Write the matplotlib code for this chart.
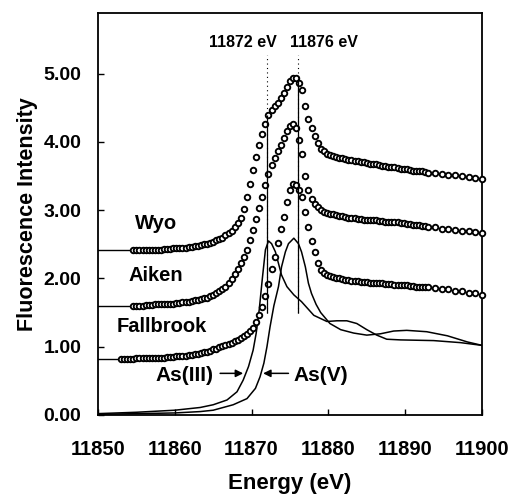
import numpy as np
import matplotlib
matplotlib.use("Agg")
import matplotlib.pyplot as plt

plt.rcParams['font.family'] = ['Liberation Sans', 'DejaVu Sans']
plt.rcParams['font.weight'] = 'bold'

# energy grids (eV): 0.4 eV steps through the edge, coarser past 11893
grid_fine = np.arange(11854.6, 11893.01, 0.4)
grid_fall = np.arange(11853.0, 11893.01, 0.4)
grid_tail = np.arange(11893.875, 11900.01, 0.875)

wyo_energy = np.concatenate([grid_fine, grid_tail])
wyo_intensity = [
    2.41, 2.41, 2.41, 2.41, 2.41, 2.42, 2.42, 2.42, 2.42, 2.42,
    2.43, 2.43, 2.43, 2.44, 2.44, 2.44, 2.45, 2.45, 2.46, 2.46,
    2.47, 2.48, 2.49, 2.50, 2.51, 2.52, 2.54, 2.56, 2.58, 2.60,
    2.63, 2.66, 2.70, 2.75, 2.81, 2.89, 3.02, 3.19, 3.39, 3.59,
    3.78, 3.96, 4.12, 4.27, 4.39, 4.47, 4.52, 4.57, 4.64, 4.71,
    4.80, 4.89, 4.94, 4.93, 4.86, 4.76, 4.52, 4.34, 4.20, 4.08,
    3.98, 3.90, 3.86, 3.83, 3.81, 3.80, 3.78, 3.77, 3.76, 3.75,
    3.74, 3.73, 3.72, 3.72, 3.71, 3.70, 3.69, 3.68, 3.68, 3.67,
    3.66, 3.65, 3.65, 3.64, 3.63, 3.63, 3.62, 3.61, 3.60, 3.60,
    3.59, 3.58, 3.58, 3.57, 3.57, 3.56, 3.55,
    3.54, 3.53, 3.52, 3.51, 3.50, 3.48, 3.47, 3.45,
]

aiken_energy = np.concatenate([grid_fine, grid_tail])
aiken_intensity = [
    1.60, 1.60, 1.60, 1.60, 1.61, 1.61, 1.61, 1.62, 1.62, 1.62,
    1.62, 1.63, 1.63, 1.63, 1.64, 1.64, 1.65, 1.65, 1.66, 1.67,
    1.68, 1.69, 1.70, 1.71, 1.72, 1.74, 1.76, 1.78, 1.81, 1.84,
    1.88, 1.93, 1.99, 2.06, 2.14, 2.22, 2.31, 2.42, 2.56, 2.71,
    2.87, 3.03, 3.20, 3.37, 3.53, 3.66, 3.76, 3.86, 3.96, 4.06,
    4.16, 4.23, 4.26, 4.20, 4.03, 3.83, 3.50, 3.30, 3.17, 3.09,
    3.04, 3.01, 2.98, 2.96, 2.95, 2.94, 2.93, 2.92, 2.91, 2.90,
    2.89, 2.88, 2.88, 2.87, 2.87, 2.86, 2.86, 2.85, 2.85, 2.85,
    2.84, 2.84, 2.83, 2.83, 2.82, 2.82, 2.82, 2.81, 2.81, 2.80,
    2.80, 2.79, 2.78, 2.78, 2.77, 2.77, 2.76,
    2.75, 2.73, 2.72, 2.71, 2.70, 2.69, 2.68, 2.66,
]

fall_energy = np.concatenate([grid_fall, grid_tail])
fall_intensity = [
    0.82, 0.82, 0.82, 0.82, 0.82, 0.83, 0.83, 0.83, 0.83, 0.83,
    0.84, 0.84, 0.84, 0.84, 0.84, 0.85, 0.85, 0.85, 0.86, 0.86,
    0.87, 0.87, 0.88, 0.88, 0.89, 0.90, 0.91, 0.92, 0.93, 0.94,
    0.96, 0.97, 0.99, 1.01, 1.02, 1.04, 1.06, 1.08, 1.10, 1.13,
    1.16, 1.19, 1.23, 1.28, 1.36, 1.46, 1.58, 1.74, 1.92, 2.14,
    2.32, 2.52, 2.72, 2.90, 3.12, 3.30, 3.38, 3.37, 3.30, 3.19,
    2.98, 2.76, 2.55, 2.39, 2.23, 2.13, 2.08, 2.05, 2.03, 2.02,
    2.01, 2.00, 1.99, 1.98, 1.98, 1.97, 1.96, 1.96, 1.95, 1.95,
    1.95, 1.94, 1.94, 1.94, 1.93, 1.93, 1.92, 1.92, 1.92, 1.91,
    1.91, 1.91, 1.90, 1.90, 1.89, 1.89, 1.88, 1.88, 1.88, 1.87,
    1.87,
    1.86, 1.85, 1.84, 1.82, 1.81, 1.79, 1.78, 1.76,
]

# reference spectra
as3_energy = [11850, 11855, 11860, 11863.3, 11865, 11866.8, 11868.1, 11868.9,
              11869.6, 11870.2, 11870.6, 11871.0, 11871.4, 11871.8, 11872.2,
              11872.6, 11873.1, 11873.5, 11873.9, 11874.6, 11875.5, 11876.5,
              11878.1, 11879.8, 11881.1, 11882.4, 11883.7, 11885.0, 11886.3,
              11887.6, 11889.4, 11893.7, 11897.2, 11900]
as3_intensity = [0.02, 0.04, 0.07, 0.11, 0.15, 0.22, 0.34, 0.51, 0.71, 0.95,
                 1.20, 1.55, 2.00, 2.42, 2.55, 2.51, 2.39, 2.22, 2.05, 1.88,
                 1.76, 1.66, 1.46, 1.37, 1.38, 1.38, 1.34, 1.25, 1.17, 1.11,
                 1.10, 1.09, 1.06, 1.02]

as5_energy = [11850, 11855, 11860, 11863.3, 11865, 11867.6, 11869.4, 11870.5,
              11871.1, 11871.6, 11872.0, 11872.4, 11872.9, 11873.5, 11873.9,
              11874.4, 11874.8, 11875.5, 11876.1, 11876.5, 11877.0, 11877.4,
              11877.8, 11878.4, 11879.0, 11880.2, 11881.6, 11883.3, 11885.0,
              11886.8, 11888.5, 11890.2, 11892.8, 11895.5, 11898.1, 11900]
as5_intensity = [0.01, 0.02, 0.03, 0.05, 0.07, 0.15, 0.24, 0.39, 0.56, 0.76,
                 1.00, 1.29, 1.60, 1.88, 2.17, 2.39, 2.51, 2.59, 2.51, 2.39,
                 2.17, 1.93, 1.78, 1.62, 1.50, 1.34, 1.25, 1.20, 1.17, 1.19,
                 1.23, 1.24, 1.22, 1.16, 1.07, 1.02]

sample_names = ['Wyo', 'Aiken', 'Fallbrook']
edge_energies = [11872, 11876]
edge_labels = ['11872 eV', '11876 eV']

fig = plt.figure(figsize=(5.12, 4.97), dpi=100)
ax = fig.add_axes([0.1914, 0.165, 0.75, 0.809])

samples = [
    (wyo_energy, wyo_intensity, (11857.6, 2.80)),
    (aiken_energy, aiken_intensity, (11857.5, 2.05)),
    (fall_energy, fall_intensity, (11858.3, 1.29)),
]
for name, (e, y, pos) in zip(sample_names, samples):
    # lead-in line from the axis to the first point
    ax.plot([11850, e[0]], [y[0], y[0]], color='black', lw=1.0)
    ax.plot(e, y, linestyle='none', marker='o', markersize=4.0,
            markerfacecolor='white', markeredgecolor='black',
            markeredgewidth=1.35, clip_on=False, zorder=3)
    ax.text(pos[0], pos[1], name, ha='center', va='center', fontsize=14.5,
            fontweight='bold')

ax.plot(as3_energy, as3_intensity, color='black', lw=1.1, zorder=2)
ax.plot(as5_energy, as5_intensity, color='black', lw=1.1, zorder=2)

# edge markers: dotted above the spectra, solid through them
ax.vlines(edge_energies, 1.49, 5.28, colors='black', linestyles=(0, (1, 3)),
          lw=0.8, zorder=4)
ax.vlines(edge_energies[0], 1.49, 4.40, colors='black', lw=0.9, zorder=4)
ax.vlines(edge_energies[1], 1.49, 4.93, colors='black', lw=0.9, zorder=4)
ax.text(11873.3, 5.45, edge_labels[0], ha='right', va='center', fontsize=11.5)
ax.text(11875.0, 5.45, edge_labels[1], ha='left', va='center', fontsize=11.5)

arrow = dict(arrowstyle='-|>', color='black', lw=1.1, mutation_scale=11,
             shrinkA=0, shrinkB=0)
ax.annotate('', xy=(11868.9, 0.61), xytext=(11865.9, 0.61), arrowprops=arrow)
ax.annotate('', xy=(11871.5, 0.61), xytext=(11874.8, 0.61), arrowprops=arrow)
ax.text(11861.2, 0.58, 'As(III)', ha='center', va='center', fontsize=15)
ax.text(11879.0, 0.58, 'As(V)', ha='center', va='center', fontsize=15)

ax.set_xlim(11850, 11900)
ax.set_ylim(0, 5.89)
ax.set_xticks(np.arange(11850, 11901, 10))
ax.set_yticks(np.arange(0, 5.1, 1))
ax.set_yticklabels(['%.2f' % v for v in np.arange(0, 5.1, 1)])
ax.tick_params(axis='x', direction='in', length=4, width=1, pad=18,
               labelsize=14.5)
ax.tick_params(axis='y', direction='in', length=4, width=1, pad=12,
               labelsize=14)
for lab in ax.get_xticklabels() + ax.get_yticklabels():
    lab.set_fontweight('bold')
for spine in ax.spines.values():
    spine.set_linewidth(1.3)

ax.set_xlabel('Energy (eV)', fontsize=16, fontweight='bold', labelpad=10)
ax.set_ylabel('Fluorescence Intensity', fontsize=15.5, fontweight='bold',
              labelpad=4)

fig.savefig('out.png', dpi=100)
